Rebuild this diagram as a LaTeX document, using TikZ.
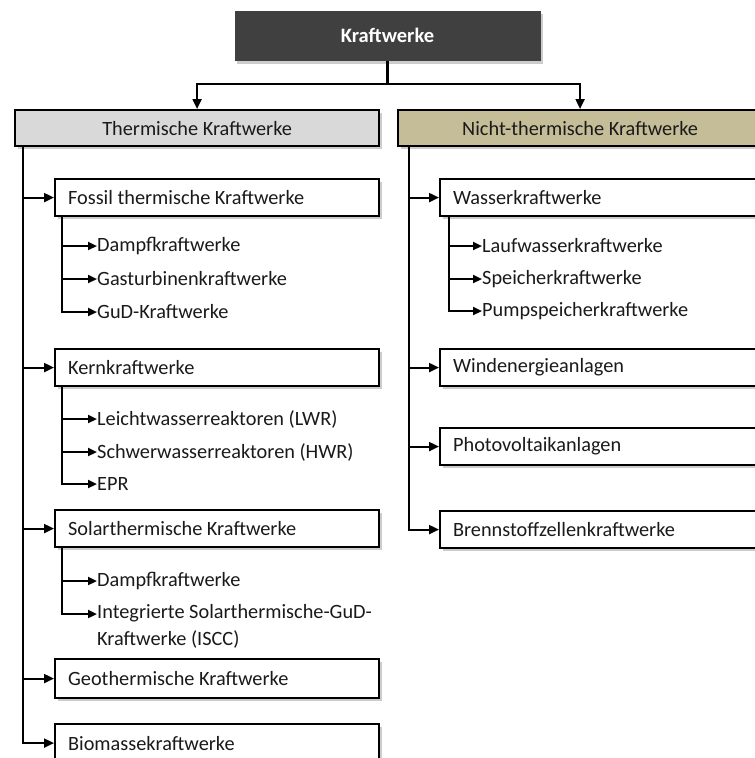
\documentclass[tikz,border=0pt]{standalone}
\usepackage{fontspec}
\setmainfont{Carlito}
\usetikzlibrary{arrows.meta,shadows}
\definecolor{darkbox}{HTML}{404040}
\definecolor{thermfill}{HTML}{D9D9D9}
\definecolor{nthfill}{HTML}{C4BD97}
\definecolor{txt}{HTML}{1A1A1A}
\begin{document}
\begin{tikzpicture}[x=1pt,y=-1pt,
  font=\fontsize{20.3}{24.5}\selectfont, text=txt,
  shad/.style={drop shadow={shadow xshift=2.5pt,shadow yshift=-3pt,fill=black,opacity=0.2}},
  topbox/.style={fill=darkbox, text=white, font=\fontsize{20.5}{24.5}\selectfont\bfseries,
     minimum width=306pt, minimum height=50pt, inner sep=0pt, shad},
  catbox/.style={draw=black, line width=2.2pt, minimum width=364pt, minimum height=36pt,
     inner sep=0pt, anchor=north west, shad},
  box/.style={draw=black, line width=2.2pt, fill=white, minimum width=324pt, minimum height=37pt,
     inner xsep=13pt, inner ysep=0pt, text width=298pt, align=flush left, anchor=north west, shad},
  item/.style={anchor=west, inner sep=0pt, align=left},
  arr/.style={draw=black, line width=2.2pt, -{Triangle[length=10pt,width=9pt]}},
  sarr/.style={draw=black, line width=2.2pt, -{Triangle[length=9pt,width=8pt]}},
  ln/.style={draw=black, line width=2.2pt}]
\clip (0,0) rectangle (755,758);
\fill[white] (0,0) rectangle (755,758);

% top
\node[topbox] (kw) at (387.5,35.5) {Kraftwerke};
\node[catbox, fill=thermfill] (th) at (14,109) {Thermische Kraftwerke};
\node[catbox, fill=nthfill] (nth) at (397,109) {Nicht-thermische Kraftwerke};
\coordinate (split) at (387.5,84);
\draw[ln] (kw.south) -- (split);
\draw[arr] (split) -| (th.north);
\draw[arr] (split) -| (nth.north);

% left column boxes
\node[box] (fos) at (54,178) {Fossil thermische Kraftwerke};
\node[box] (kern) at (54,348) {Kernkraftwerke};
\node[box] (sol) at (54,509) {Solarthermische Kraftwerke};
\node[box, minimum height=39pt] (geo) at (54,658) {Geothermische Kraftwerke};
\node[box, minimum height=38pt] (bio) at (54,723) {Biomassekraftwerke};

% left trunk
\coordinate (tl) at (23,146);
\draw[arr] (tl) |- (bio.west);
\foreach \n in {fos,kern,sol,geo} \draw[arr] (tl |- \n.west) -- (\n.west);

% fossil subitems
\node[item] (f1) at (97,246) {Dampfkraftwerke};
\node[item] (f2) at (97,279) {Gasturbinenkraftwerke};
\node[item] (f3) at (97,312) {GuD-Kraftwerke};
\coordinate (fs) at (62,216);
\draw[sarr] (fs) |- (f3.west);
\draw[sarr] (fs |- f1.west) -- (f1.west);
\draw[sarr] (fs |- f2.west) -- (f2.west);

% kern subitems
\node[item] (k1) at (97,419) {Leichtwasserreaktoren (LWR)};
\node[item] (k2) at (97,452) {Schwerwasserreaktoren (HWR)};
\node[item] (k3) at (97,484) {EPR};
\coordinate (ks) at (62,385);
\draw[sarr] (ks) |- (k3.west);
\draw[sarr] (ks |- k1.west) -- (k1.west);
\draw[sarr] (ks |- k2.west) -- (k2.west);

% solar subitems
\node[item] (s1) at (97,581) {Dampfkraftwerke};
\node[item, anchor=north west, font=\fontsize{20.3}{27}\selectfont] (s2) at (97,604) {Integrierte Solarthermische-GuD-\\Kraftwerke (ISCC)};
\coordinate (s2in) at (97,614);
\coordinate (ss) at (62,546);
\draw[sarr] (ss) |- (s2in);
\draw[sarr] (ss |- s1.west) -- (s1.west);

% right column boxes
\node[box] (was) at (439,178) {Wasserkraftwerke};
\node[box] (wind) at (439,348) {Windenergieanlagen};
\node[box] (pv) at (439,427) {Photovoltaikanlagen};
\node[box] (bz) at (439,510) {Brennstoffzellenkraftwerke};

\coordinate (tr) at (409,146);
\draw[arr] (tr) |- (bz.west);
\foreach \n in {was,wind,pv} \draw[arr] (tr |- \n.west) -- (\n.west);

% wasser subitems
\node[item] (w1) at (482,246) {Laufwasserkraftwerke};
\node[item] (w2) at (482,279) {Speicherkraftwerke};
\node[item] (w3) at (482,311) {Pumpspeicherkraftwerke};
\coordinate (ws) at (449,216);
\draw[sarr] (ws) |- (w3.west);
\draw[sarr] (ws |- w1.west) -- (w1.west);
\draw[sarr] (ws |- w2.west) -- (w2.west);
\end{tikzpicture}
\end{document}
